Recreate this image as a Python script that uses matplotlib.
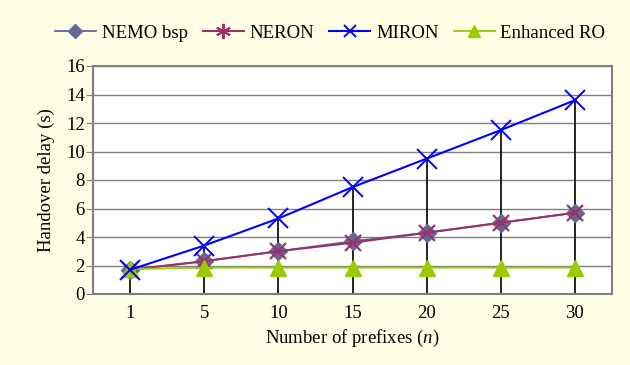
import matplotlib
matplotlib.use("Agg")
import matplotlib.pyplot as plt
import numpy as np
from matplotlib.lines import Line2D

categories = ["1", "5", "10", "15", "20", "25", "30"]
nemo_bsp = [1.7, 2.3, 3.0, 3.7, 4.3, 5.0, 5.7]
neron = [1.7, 2.3, 3.0, 3.6, 4.3, 5.0, 5.7]
miron = [1.7, 3.4, 5.3, 7.5, 9.5, 11.5, 13.6]
enhanced_ro = [1.75, 1.85, 1.85, 1.85, 1.85, 1.85, 1.85]
y_ticks = [0, 2, 4, 6, 8, 10, 12, 14, 16]
labels = ['NEMO bsp', 'NERON', 'MIRON', 'Enhanced RO']

plt.rcParams['font.family'] = ['Liberation Serif', 'DejaVu Serif']
plt.rcParams['mathtext.fontset'] = 'custom'
plt.rcParams['mathtext.rm'] = 'Liberation Serif'
plt.rcParams['mathtext.it'] = 'Liberation Serif:italic'

FS = 13.5

fig = plt.figure(figsize=(6.3, 3.65), dpi=100)
fig.patch.set_facecolor('#FFFFE6')
ax = fig.add_axes([93/630, 1-294/365, (612-93)/630, (294-66)/365])
ax.set_facecolor('white')

x = np.arange(len(categories)) + 0.5

# high-low lines
top = np.max(np.vstack([nemo_bsp, neron, miron, enhanced_ro]), axis=0)
ax.vlines(x, 0, top, colors='black', lw=1.2, zorder=2)

ax.plot(x, nemo_bsp, color='#666699', lw=1.3, marker='D', ms=9, mfc='#666699', mec='#666699', zorder=3)
ax.plot(x, neron, color='#993366', lw=1.5, marker='x', ms=12, mew=1.6, zorder=4)
ax.plot(x, miron, color='#0000FF', lw=1.5, marker='x', ms=15, mew=1.4, zorder=5)
ax.plot(x, enhanced_ro, color='#99CC00', lw=1.3, marker='^', ms=12, mfc='#99CC00', mec='#99CC00', zorder=4)

ax.set_xlim(0, len(categories))
ax.set_ylim(0, 16)
ax.set_yticks(y_ticks)
ax.set_xticks(x)
ax.set_xticklabels(categories)
ax.yaxis.grid(True, color='#808080', lw=1.0)
ax.set_axisbelow(True)
for s in ax.spines.values():
    s.set_color('#808080')
    s.set_linewidth(1.5)
ax.tick_params(axis='y', direction='out', length=5, color='#808080', labelsize=FS, pad=1)
ax.tick_params(axis='x', length=0, labelsize=FS, pad=8)

ax.set_ylabel('Handover delay (s)', fontsize=FS, labelpad=8)
ax.set_xlabel('Number of prefixes ($\\mathit{n}$)', fontsize=FS, labelpad=4)

leg_handles = [
    Line2D([], [], color='#666699', lw=1.3, marker='D', ms=7, mfc='#666699', mec='#666699'),
    Line2D([], [], color='#993366', lw=1.5, marker=(6, 2, 0), ms=11, mew=1.4, mec='#993366'),
    Line2D([], [], color='#0000FF', lw=1.5, marker='x', ms=9, mew=1.4),
    Line2D([], [], color='#99CC00', lw=1.3, marker='^', ms=9, mfc='#99CC00', mec='#99CC00'),
]
leg = fig.legend(leg_handles, labels, loc='center', bbox_to_anchor=(330/630, 1-33/365), ncol=4, frameon=False,
                 fontsize=FS, handlelength=2.2, columnspacing=0.8, handletextpad=0.3, borderpad=0)

fig.savefig('out.png', dpi=100, facecolor=fig.get_facecolor())
